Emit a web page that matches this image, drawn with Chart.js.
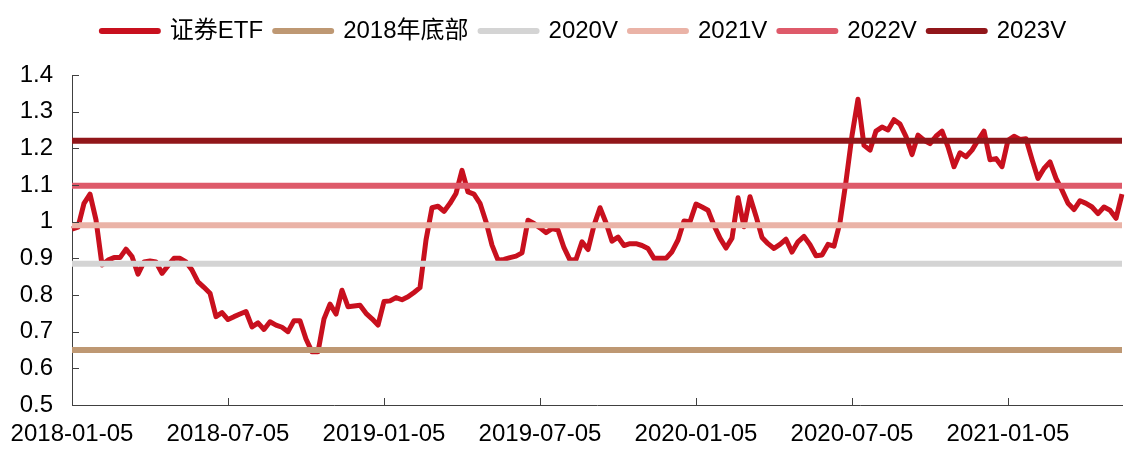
<!DOCTYPE html>
<html>
<head>
<meta charset="utf-8">
<script src="https://cdn.jsdelivr.net/npm/chart.js@4.4.0/dist/chart.umd.min.js"></script>
<style>
  html, body { margin: 0; padding: 0; background: #fff; }
  canvas { display: block; }
</style>
</head>
<body>
<canvas id="myChart" width="1134" height="456"></canvas>
<script>
// weekly values of 证券ETF
const etfValues = [
  0.98, 0.985, 1.05, 1.075, 1.005, 0.882, 0.895, 0.902, 0.902, 0.925,
  0.905, 0.857, 0.89, 0.893, 0.89, 0.859, 0.88, 0.9, 0.9, 0.89,
  0.868, 0.836, 0.821, 0.805, 0.741, 0.752, 0.733, 0.741, 0.748, 0.755,
  0.713, 0.724, 0.706, 0.727, 0.718, 0.712, 0.70, 0.73, 0.73, 0.68,
  0.645, 0.645, 0.735, 0.775, 0.748, 0.813, 0.768, 0.77, 0.772, 0.75,
  0.735, 0.718, 0.782, 0.784, 0.793, 0.787, 0.795, 0.807, 0.82, 0.95,
  1.038, 1.042, 1.028, 1.05, 1.077, 1.14, 1.081, 1.075, 1.05, 1.0,
  0.936, 0.895, 0.897, 0.902, 0.906, 0.915, 1.004, 0.995, 0.983, 0.97,
  0.981, 0.977, 0.929, 0.895, 0.897, 0.945, 0.924, 0.99, 1.038, 0.997,
  0.947, 0.958, 0.935, 0.94, 0.94, 0.935, 0.927, 0.9, 0.9, 0.9,
  0.918, 0.95, 1.002, 1.0, 1.048, 1.04, 1.031, 0.99, 0.955, 0.928,
  0.955, 1.065, 0.986, 1.068, 1.015, 0.957, 0.94, 0.927, 0.938, 0.952,
  0.917, 0.945, 0.96, 0.937, 0.907, 0.909, 0.938, 0.933, 0.998, 1.11,
  1.235, 1.334, 1.208, 1.195, 1.247, 1.258, 1.25, 1.278, 1.266, 1.232,
  1.183, 1.236, 1.222, 1.213, 1.233, 1.247, 1.204, 1.15, 1.188, 1.177,
  1.195, 1.222, 1.247, 1.169, 1.172, 1.15, 1.222, 1.233, 1.224, 1.226,
  1.17, 1.118, 1.145, 1.163, 1.118, 1.086, 1.05, 1.033, 1.057, 1.05,
  1.04, 1.022, 1.04, 1.031, 1.009, 1.075
];

// reference levels
const levelNames = ['2018年底部', '2020V', '2021V', '2022V', '2023V'];
const levelValues = [0.65, 0.885, 0.99, 1.098, 1.221];
const levelColors = ['#BE9873', '#D4D4D4', '#EAB3A7', '#DE5A6A', '#91161A'];

const tickLabels = ['2018-01-05', '2018-07-05', '2019-01-05', '2019-07-05',
  '2020-01-05', '2020-07-05', '2021-01-05'];
const tickEvery = 26;

const fontFamily = '"Liberation Sans", Arial, "Noto Sans CJK SC", sans-serif';

// one category per week, starting 2018-01-05
const categories = [];
const start = Date.UTC(2018, 0, 5);
for (let i = 0; i < etfValues.length; i++) {
  categories.push(new Date(start + i * 7 * 86400000).toISOString().slice(0, 10));
}
const last = categories.length - 1;

// small tick marks pointing into the plot, like the original
const innerTicks = {
  id: 'innerTicks',
  afterDraw(chart) {
    const { ctx, chartArea, scales: { x, y } } = chart;
    ctx.save();
    ctx.strokeStyle = '#404040';
    ctx.lineWidth = 1;
    ctx.beginPath();
    x.ticks.forEach((t, i) => {
      if (i % tickEvery !== 0 || i === 0) return;
      const px = Math.round(x.getPixelForTick(i)) + 0.5;
      ctx.moveTo(px, chartArea.bottom);
      ctx.lineTo(px, chartArea.bottom - 7);
    });
    y.ticks.forEach((t, i) => {
      const py = Math.round(y.getPixelForTick(i)) + 0.5;
      ctx.moveTo(chartArea.left, py);
      ctx.lineTo(chartArea.left + 7, py);
    });
    ctx.stroke();
    ctx.restore();
  }
};

// extra gap under the legend, and legend nudged right
const legendGap = {
  id: 'legendGap',
  beforeLayout(chart) {
    const lg = chart.legend;
    if (lg && !lg._gapAdded) {
      const fit = lg.fit;
      lg.fit = function () { fit.call(this); this.height += 22; };
      lg._gapAdded = true;
    }
  },
  afterLayout(chart) {
    if (chart.legend) chart.legend.left += 46;
  }
};

const datasets = [{
  label: '证券ETF',
  data: etfValues,
  borderColor: '#C8101E',
  backgroundColor: '#C8101E',
  borderWidth: 5,
  borderJoinStyle: 'round',
  pointRadius: 0,
  tension: 0,
  order: 1
}];
levelNames.forEach((name, k) => {
  datasets.push({
    label: name,
    data: [{ x: categories[0], y: levelValues[k] }, { x: categories[last], y: levelValues[k] }],
    borderColor: levelColors[k],
    backgroundColor: levelColors[k],
    borderWidth: 6,
    pointRadius: 0,
    order: 0
  });
});

const ctx = document.getElementById('myChart');
const myChart = new Chart(ctx, {
  type: 'line',
  data: { labels: categories, datasets: datasets },
  plugins: [innerTicks, legendGap],
  options: {
    responsive: false,
    animation: false,
    devicePixelRatio: 1,
    layout: { autoPadding: false, padding: { left: 0, right: 12, top: 7, bottom: 0 } },
    plugins: {
      tooltip: { enabled: false },
      legend: {
        position: 'top',
        labels: {
          usePointStyle: true,
          pointStyle: 'line',
          pointStyleWidth: 56,
          padding: 12,
          color: '#000',
          font: { size: 24, family: fontFamily },
          sort: (a, b) => a.datasetIndex - b.datasetIndex,
          generateLabels(chart) {
            const items = Chart.defaults.plugins.legend.labels.generateLabels(chart);
            items.forEach(it => { it.lineWidth = 6; it.lineCap = 'round'; });
            return items;
          }
        }
      }
    },
    scales: {
      x: {
        grid: { display: false, drawTicks: false },
        border: { display: true, color: '#404040', width: 1 },
        ticks: {
          autoSkip: false,
          maxRotation: 0,
          padding: 15,
          color: '#000',
          font: { size: 24, family: fontFamily },
          callback: (v, i) => (i % tickEvery === 0 ? tickLabels[i / tickEvery] || '' : '')
        },
        afterFit: s => { s.height = 51; s.paddingLeft = 0; s.paddingRight = 0; }
      },
      y: {
        min: 0.5,
        max: 1.4,
        grid: { display: false, drawTicks: false },
        border: { display: true, color: '#404040', width: 1 },
        ticks: {
          stepSize: 0.1,
          padding: 19,
          color: '#000',
          font: { size: 24, family: fontFamily },
          callback: v => String(Number(v.toFixed(1)))
        },
        afterFit: s => { s.width = 72; }
      }
    }
  }
});
</script>
</body>
</html>
